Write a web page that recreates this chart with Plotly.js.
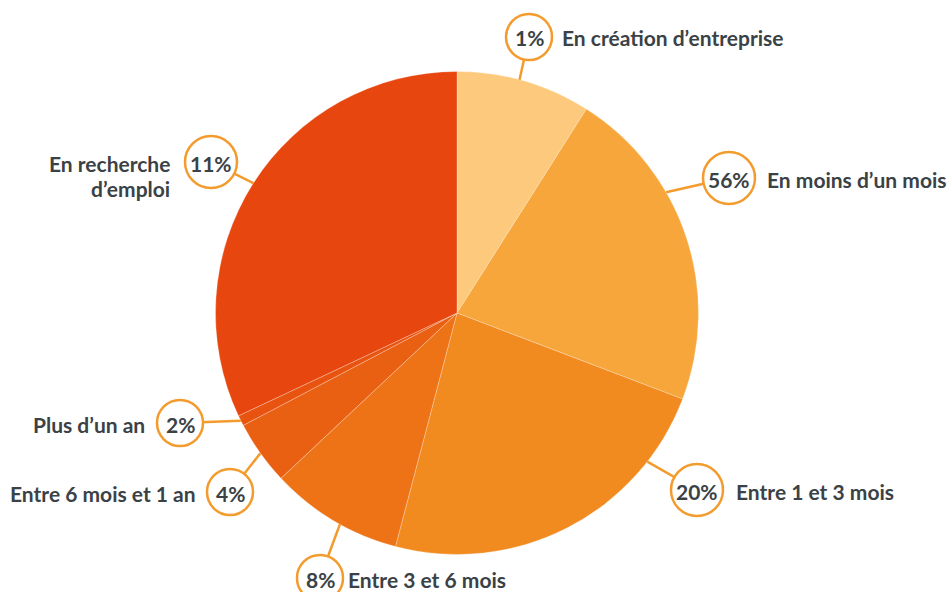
<!DOCTYPE html>
<html>
<head>
<meta charset="utf-8">
<script src="https://cdn.plot.ly/plotly-3.0.1.min.js"></script>
<style>
  html, body { margin: 0; padding: 0; background: #ffffff; }
  #chart { width: 949px; height: 592px; }
</style>
</head>
<body>
<div id="chart"></div>
<script>
// ---- data ----
const categories = [
  'En création d’entreprise',
  'En moins d’un mois',
  'Entre 1 et 3 mois',
  'Entre 3 et 6 mois',
  'Entre 6 mois et 1 an',
  'Plus d’un an',
  'En recherche<br>d’emploi'
];
const sliceValues = [9.0, 21.8, 23.3, 8.9, 4.3, 0.7, 32.0];
const percentLabels = ['1%', '56%', '20%', '8%', '4%', '2%', '11%'];
const sliceColors = ['#FDCA7D', '#F7A63B', '#F18A1F', '#EE7317', '#EA6013', '#E85310', '#E8460F'];

// ---- layout helpers (pixel geometry) ----
const W = 949, H = 592;
const CX = 457, CY = 313, R = 241.5;
const labelLayout = [
  {cx: 529, cy: 37,  r: 23, anchorDeg: 15,    side: 'right', gap: 8},
  {cx: 729, cy: 178, r: 26, anchorDeg: 60,    side: 'right', gap: 10},
  {cx: 697, cy: 490, r: 26, anchorDeg: 128,   side: 'right', gap: 11},
  {cx: 320, cy: 578, r: 23, anchorDeg: 209,   side: 'right', gap: 3},
  {cx: 230, cy: 492, r: 23, anchorDeg: 234.5, side: 'left',  gap: 9},
  {cx: 180, cy: 423, r: 23, anchorDeg: 243.5, side: 'left',  gap: 10},
  {cx: 211, cy: 162, r: 26, anchorDeg: 302.5, side: 'left',  gap: 13, dy: 11.5}
];
const px = x => x / W;
const py = y => 1 - y / H;

const accent = '#F39B2D';
const textColor = '#3B4246';
const fontFamily = 'Lato, "Open Sans", sans-serif';
const fontSize = 21;

const shapes = [];
const annotations = [];

labelLayout.forEach((L, i) => {
  const a = L.anchorDeg * Math.PI / 180;
  const ex = CX + R * Math.sin(a);
  const ey = CY - R * Math.cos(a);
  shapes.push({
    type: 'line', xref: 'paper', yref: 'paper', layer: 'above',
    x0: px(ex), y0: py(ey), x1: px(L.cx), y1: py(L.cy),
    line: {color: accent, width: 2.5}
  });
});
labelLayout.forEach((L, i) => {
  shapes.push({
    type: 'circle', xref: 'paper', yref: 'paper', layer: 'above',
    x0: px(L.cx - L.r), x1: px(L.cx + L.r),
    y0: py(L.cy + L.r), y1: py(L.cy - L.r),
    fillcolor: '#ffffff',
    line: {color: accent, width: 2.5}
  });
  annotations.push({
    xref: 'paper', yref: 'paper', x: px(L.cx), y: py(L.cy + 1),
    xanchor: 'center', yanchor: 'middle', showarrow: false,
    text: percentLabels[i],
    font: {family: fontFamily, size: fontSize, color: textColor, weight: 700}
  });
  const tx = L.side === 'right' ? L.cx + L.r + L.gap : L.cx - L.r - L.gap;
  const lines = categories[i].split('<br>');
  const lineH = 25;
  lines.forEach((t, k) => {
    annotations.push({
      xref: 'paper', yref: 'paper', x: px(tx), y: py(L.cy + 1 + k * lineH),
      xanchor: L.side === 'right' ? 'left' : 'right', yanchor: 'middle',
      showarrow: false,
      text: t,
      font: {family: fontFamily, size: fontSize, color: textColor, weight: 700}
    });
  });
});

const trace = {
  type: 'pie',
  labels: categories,
  values: sliceValues,
  sort: false,
  direction: 'clockwise',
  rotation: 0,
  textinfo: 'none',
  hoverinfo: 'label+percent',
  marker: {colors: sliceColors, line: {color: 'rgba(255,255,255,0.45)', width: 0.6}},
  domain: {x: [(CX - R) / W, (CX + R) / W], y: [1 - (CY + R) / H, 1 - (CY - R) / H]},
  showlegend: false
};

const layout = {
  width: W, height: H,
  margin: {l: 0, r: 0, t: 0, b: 0},
  paper_bgcolor: '#ffffff',
  showlegend: false,
  shapes: shapes,
  annotations: annotations
};

Plotly.newPlot('chart', [trace], layout, {displayModeBar: false, staticPlot: true});
</script>
</body>
</html>
